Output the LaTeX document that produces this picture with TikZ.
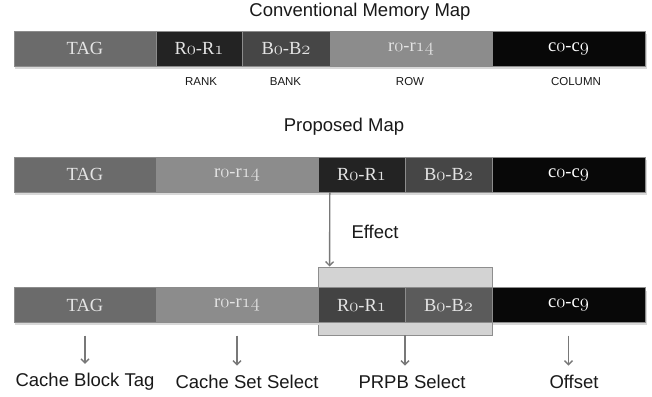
\RequirePackage{fix-cm}
\documentclass[tikz,border=0pt]{standalone}
\usepackage{fontspec}
\newfontfamily\lab{Liberation Sans}
\newfontfamily\segfont{Liberation Serif}
\usetikzlibrary{arrows.meta}
\definecolor{tagc}{HTML}{6B6B6B}
\definecolor{rowc}{HTML}{8C8C8C}
\definecolor{rankc}{HTML}{232323}
\definecolor{bankc}{HTML}{464646}
\definecolor{colc}{HTML}{080808}
\definecolor{rankl}{HTML}{434343}
\definecolor{bankl}{HTML}{5B5B5B}
\definecolor{boxf}{HTML}{D3D3D3}
\definecolor{boxd}{HTML}{8E8E8E}
\definecolor{arrc}{HTML}{787878}
\definecolor{segtext}{HTML}{E4E4E4}
\definecolor{shad}{HTML}{D8D8D8}
\tikzset{
  seg/.style={rectangle, inner sep=0pt, minimum height=35pt, draw=black!45, line width=0.4pt,
    text=segtext, font=\segfont\fontsize{18.5}{20}\selectfont},
  title/.style={font=\lab\fontsize{18.5}{20}\selectfont, text=black!90},
  small/.style={font=\lab\fontsize{11.5}{13}\selectfont, text=black!90},
  bottom/.style={font=\lab\fontsize{18.5}{20}\selectfont, text=black!90},
  arr/.style={draw=arrc, line width=1.4pt, -{Straight Barb[length=4pt,width=8pt]}},
  shadowbar/.style={fill=shad}
}
\newcommand{\os}[1]{\ensuremath{\mathnormal{#1}}}
\begin{document}
\begin{tikzpicture}[x=1pt,y=-1pt]
\useasboundingbox[fill=white] (0,0) rectangle (652,396);
% titles
\node[title] (t1title) at (360,12) {Conventional Memory Map};
\node[title] (t2title) at (344,127) {Proposed Map};
% shadows
\fill[shadowbar] (15,34) rectangle (647,69);
\fill[shadowbar] (15,160) rectangle (647,195);
% row 1
\node[seg, fill=tagc, minimum width=142pt] (a1) at (85,48.5) {TAG};
\node[seg, fill=rankc, minimum width=86pt] (a2) at (199,48.5) {R\os{0}-R\os{1}};
\node[seg, fill=bankc, minimum width=88pt] (a3) at (286,48.5) {B\os{0}-B\os{2}};
\node[seg, fill=rowc, minimum width=162pt] (a4) at (411,48.5) {r\os{0}-r\os{14}};
\node[seg, fill=colc, minimum width=153pt, text=white] (a5) at (568.5,48.5) {c\os{0}-c\os{9}};
\node[small] (lrank) at (201,82) {RANK};
\node[small] (lbank) at (285.5,82) {BANK};
\node[small] (lrow) at (410,82) {ROW};
\node[small] (lcol) at (576,82) {COLUMN};
% row 2
\node[seg, fill=tagc, minimum width=142pt] (b1) at (85,174.5) {TAG};
\node[seg, fill=rowc, minimum width=162pt] (b2) at (237,174.5) {r\os{0}-r\os{14}};
\node[seg, fill=rankc, minimum width=87pt] (b3) at (361.5,174.5) {R\os{0}-R\os{1}};
\node[seg, fill=bankc, minimum width=87pt] (b4) at (448.5,174.5) {B\os{0}-B\os{2}};
\node[seg, fill=colc, minimum width=153pt, text=white] (b5) at (568.5,174.5) {c\os{0}-c\os{9}};
% highlight box
\node[rectangle, fill=boxf, draw=boxd, line width=0.8pt, minimum width=174pt, minimum height=68pt, inner sep=0pt] (hb) at (405,301) {};
\node[title] (eff) at (375,232) {Effect};
\draw[arr] ([xshift=12pt]b3.south west) -- ([xshift=12pt]hb.north west);
% row 3
\fill[shadowbar] (15,291) rectangle (319,325);
\fill[shadowbar] (493,291) rectangle (647,325);
\node[seg, fill=tagc, minimum width=142pt] (c1) at (85,305) {TAG};
\node[seg, fill=rowc, minimum width=162pt] (c2) at (237,305) {r\os{0}-r\os{14}};
\node[seg, fill=rankl, minimum width=87pt] (c3) at (361.5,305) {R\os{0}-R\os{1}};
\node[seg, fill=bankl, minimum width=87pt] (c4) at (448.5,305) {B\os{0}-B\os{2}};
\node[seg, fill=colc, minimum width=153pt, text=white] (c5) at (568.5,305) {c\os{0}-c\os{9}};
% bottom labels
\node[bottom] (d1) at (85,382) {Cache Block Tag};
\node[bottom] (d2) at (247,382) {Cache Set Select};
\node[bottom] (d3) at (412,382) {PRPB Select};
\node[bottom] (d4) at (574,382) {Offset};
\draw[arr] ([yshift=-13pt]c1.south) -- ([yshift=6pt]c1.south |- d1.north);
\draw[arr] ([yshift=-13pt]c2.south) -- ([yshift=6pt]c2.south |- d2.north);
\draw[arr] (hb.south) -- ([yshift=6pt]hb.south |- d3.north);
\draw[arr] ([yshift=-13pt]c5.south) -- ([yshift=6pt]c5.south |- d4.north);
\end{tikzpicture}
\end{document}
